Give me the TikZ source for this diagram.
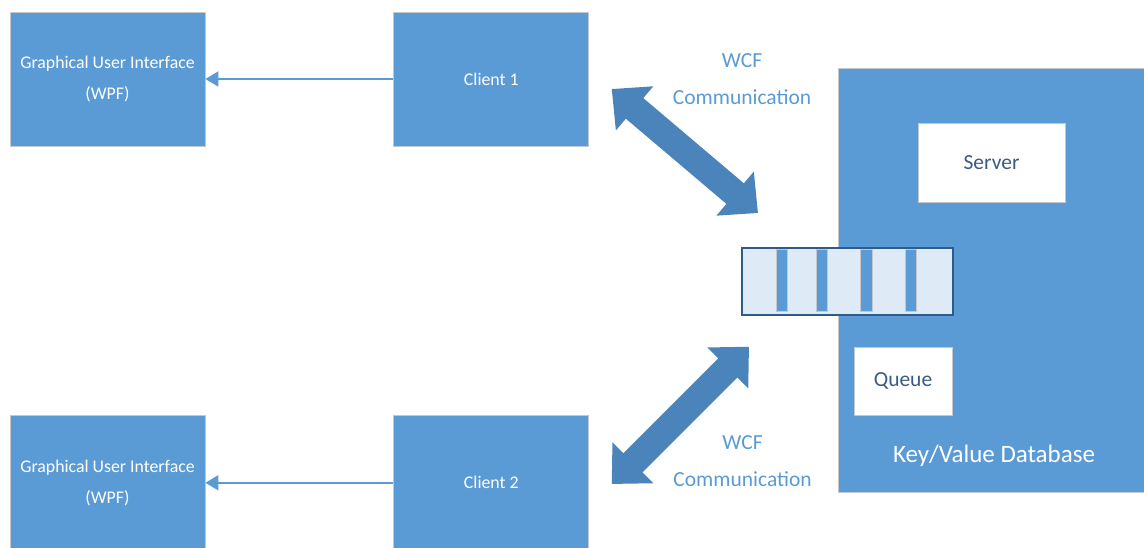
\documentclass[tikz,border=0pt]{standalone}
\usepackage{fontspec}
\setmainfont{Carlito}
\usetikzlibrary{positioning,arrows.meta}
\definecolor{boxblue}{HTML}{5B9BD5}
\definecolor{pipeblue}{HTML}{4A84BA}
\definecolor{stripfill}{HTML}{DEEBF7}
\definecolor{stripline}{HTML}{2E5C8A}
\definecolor{darktext}{HTML}{3B5B84}
\definecolor{rimgrey}{HTML}{C4C8CC}

\begin{document}
\begin{tikzpicture}[x=1pt,y=-1pt]

	\tikzstyle{block} = [rectangle,fill=boxblue,draw=rimgrey,line width=0.8pt,minimum width=195pt,minimum height=134pt,inner sep=0pt,text=white,align=center,font=\fontsize{17.8}{31}\selectfont]
	\tikzstyle{store} = [rectangle,fill=boxblue,draw=rimgrey,line width=0.8pt,minimum width=320pt,minimum height=424pt,anchor=north west]
	\tikzstyle{part} = [rectangle,fill=white,draw=rimgrey,line width=0.8pt,inner sep=0pt,text=darktext,font=\fontsize{21.5}{26}\selectfont]
	\tikzstyle{strip} = [rectangle,fill=stripfill,draw=stripline,line width=1.8pt,minimum width=211pt,minimum height=67pt,anchor=north west]
	\tikzstyle{slot} = [rectangle,fill=boxblue,draw=rimgrey,line width=0.6pt,minimum width=11.5pt,minimum height=62pt,inner sep=0pt]
	\tikzstyle{wcf} = [text=boxblue,align=center,font=\fontsize{21.5}{36.6}\selectfont]
	\tikzstyle{feed} = [-{Triangle[length=13pt,width=15pt]},line width=2pt,boxblue]
	\tikzstyle{pipe} = [<->,>={Triangle[length=30pt,width=56pt]},line width=27pt,pipeblue]

	\useasboundingbox (0,0) rectangle (1144,548);

	% clients and their user interfaces
	\node[block] (gui1) at (107.5,79) {Graphical User Interface\\(WPF)};
	\node[block,right=188pt of gui1] (client1) {Client 1};
	\node[block,below=269pt of gui1] (gui2) {Graphical User Interface\\(WPF)};
	\node[block,right=188pt of gui2] (client2) {Client 2};

	\draw[feed] (client1) -- (gui1);
	\draw[feed] (client2) -- (gui2);

	% database with server and queue
	\node[store] (db) at (838,68) {};
	\node[part,minimum width=147pt,minimum height=79pt] (server) at (991.5,162.5) {Server};
	\node[part,minimum width=98pt,minimum height=68pt] (queue) at (903,381) {Queue};
	\node[text=white,font=\fontsize{25}{30}\selectfont] (dblabel) at (994,456) {Key/Value Database};

	\node[strip] (inbox) at (741,247) {};
	\foreach \x [count=\i] in {782,822,866.5,911}
		\node[slot] (slot\i) at (\x,280) {};

	% WCF links
	\coordinate (w1a) at (611.7,89);
	\coordinate (w1b) at (758,213);
	\coordinate (w2a) at (749,346.7);
	\coordinate (w2b) at (611.7,484);

	\draw[pipe] (w1a) -- (w1b);
	\draw[pipe] (w2a) -- (w2b);

	\node[wcf] (wcf1) at (742,79) {WCF\\Communication};
	\node[wcf] (wcf2) at (742.6,461) {WCF\\Communication};

\end{tikzpicture}
\end{document}
